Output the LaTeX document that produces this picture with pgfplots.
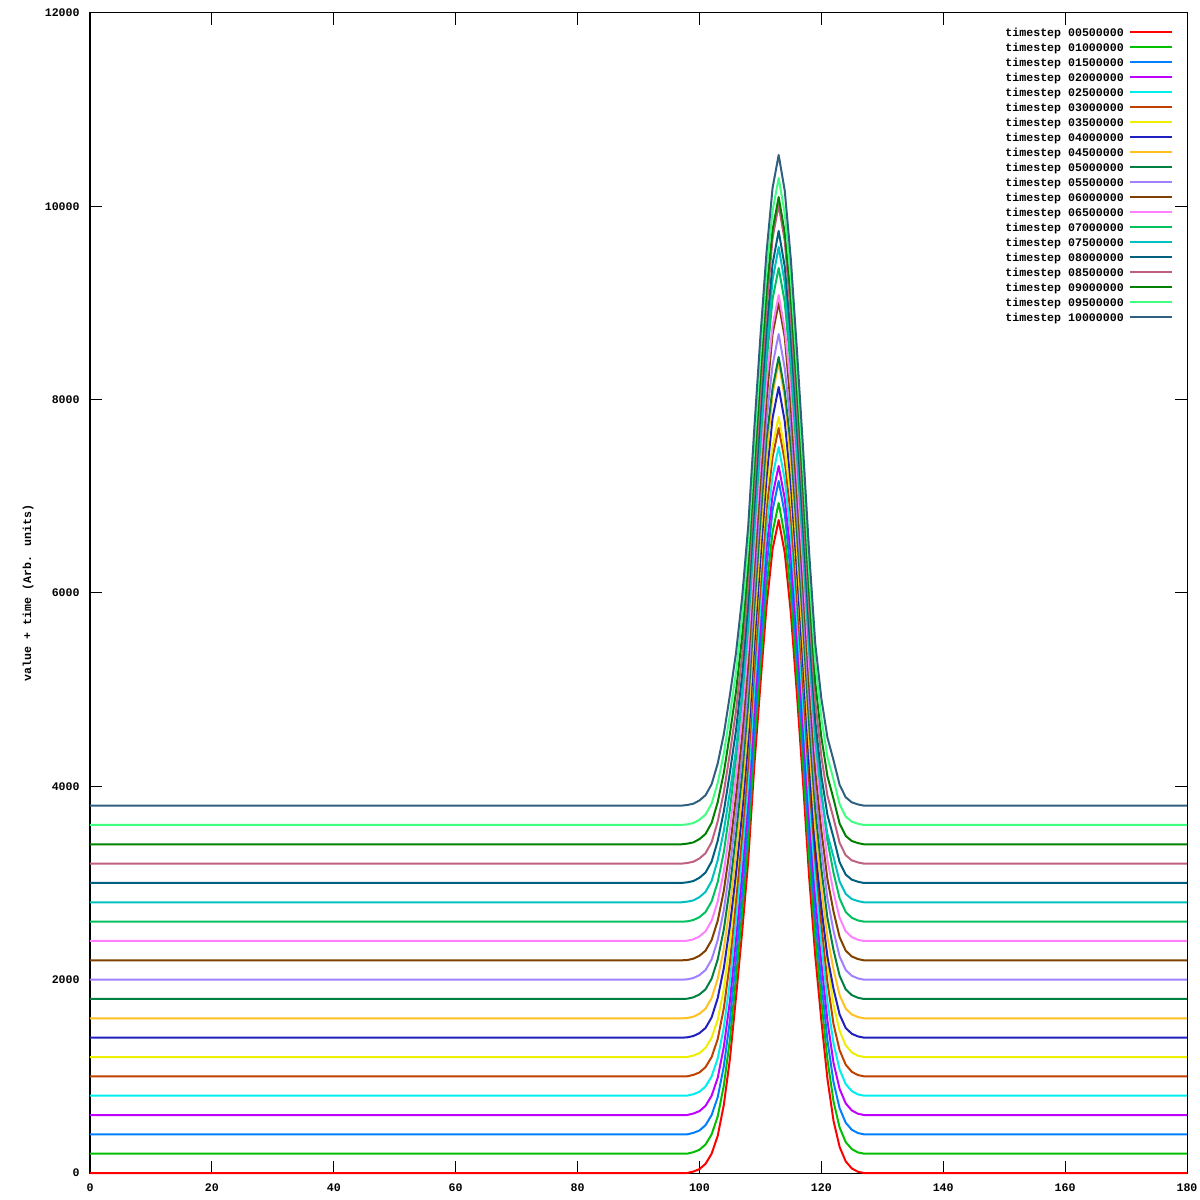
\documentclass[border=0pt]{standalone}
\usepackage{fontspec}
\setmainfont{Liberation Mono}
\usepackage{pgfplots}
\usepackage{pgfplotstable}
\pgfplotsset{compat=1.18}
\definecolor{g1}{HTML}{FF0000}
\definecolor{g2}{HTML}{00C000}
\definecolor{g3}{HTML}{0080FF}
\definecolor{g4}{HTML}{C000FF}
\definecolor{g5}{HTML}{00EEEE}
\definecolor{g6}{HTML}{C04000}
\definecolor{g7}{HTML}{EEEE00}
\definecolor{g8}{HTML}{2020C0}
\definecolor{g9}{HTML}{FFC020}
\definecolor{g10}{HTML}{008040}
\definecolor{g11}{HTML}{A080FF}
\definecolor{g12}{HTML}{804000}
\definecolor{g13}{HTML}{FF80FF}
\definecolor{g14}{HTML}{00C060}
\definecolor{g15}{HTML}{00C0C0}
\definecolor{g16}{HTML}{006080}
\definecolor{g17}{HTML}{C06080}
\definecolor{g18}{HTML}{008000}
\definecolor{g19}{HTML}{40FF80}
\definecolor{g20}{HTML}{306080}
\pgfplotstableread{
x c0 c1 c2 c3 c4 c5 c6 c7 c8 c9 c10 c11 c12 c13 c14 c15 c16 c17 c18 c19
0 0 200 400 600 800 1000 1200 1400 1600 1800 2000 2200 2400 2600 2800 3000 3200 3400 3600 3800
97 0 200 400 600 800 1000 1200 1400 1600 1800 2000 2200 2400 2600 2800 3000 3200 3400 3600 3800
98 0 200 400 600 800 1000 1200 1403 1603 1803 2003 2203 2403 2603 2807 3007 3207 3407 3607 3807
99 15 215 415 615 815 1015 1215 1417 1617 1817 2017 2217 2417 2617 2820 3020 3220 3420 3620 3820
100 40 240 440 640 840 1040 1240 1447 1647 1847 2047 2247 2447 2647 2854 3054 3254 3454 3654 3854
101 95 295 495 695 895 1095 1295 1500 1700 1900 2100 2300 2500 2700 2908 3108 3308 3508 3708 3908
102 200 400 600 800 1000 1200 1400 1610 1810 2010 2210 2410 2610 2810 3022 3222 3422 3622 3822 4022
103 385 585 785 985 1185 1385 1585 1810 2010 2210 2410 2610 2810 3010 3237 3437 3637 3837 4037 4237
104 705 905 1105 1305 1505 1705 1905 2120 2320 2520 2720 2920 3120 3320 3540 3740 3940 4140 4340 4540
105 1180 1380 1580 1780 1980 2180 2380 2560 2760 2960 3160 3360 3560 3760 3945 4145 4345 4545 4745 4945
106 1820 2020 2220 2420 2620 2820 3020 3100 3300 3500 3700 3900 4100 4300 4380 4580 4780 4980 5180 5380
107 2490 2690 2890 3090 3290 3490 3690 3720 3920 4120 4320 4520 4720 4920 4950 5150 5350 5550 5750 5950
108 3230 3430 3630 3830 4030 4230 4430 4460 4660 4860 5060 5260 5460 5660 5690 5890 6090 6290 6490 6690
109 4210 4410 4610 4810 5010 5210 5410 5450 5650 5850 6050 6250 6450 6650 6700 6900 7100 7300 7500 7700
110 5050 5250 5450 5650 5850 6050 6250 6350 6550 6750 6950 7150 7350 7550 7650 7850 8050 8250 8450 8650
111 5860 6060 6260 6460 6660 6860 7060 7190 7390 7590 7790 7990 8190 8390 8520 8720 8920 9120 9320 9520
112 6455 6631 6858 7014 7210 7407 7521 7811 8059 8121 8359 8680 8763 9042 9239 9405 9673 9756 9953 10191
113 6755 6931 7158 7314 7510 7707 7821 8131 8379 8441 8679 9000 9083 9362 9579 9745 10013 10096 10293 10531
114 6415 6591 6818 6974 7170 7367 7481 7776 8024 8086 8324 8645 8728 9007 9209 9375 9643 9726 9923 10161
115 5790 5990 6190 6390 6590 6790 6990 7120 7320 7520 7720 7920 8120 8320 8450 8650 8850 9050 9250 9450
116 4950 5150 5350 5550 5750 5950 6150 6230 6430 6630 6830 7030 7230 7430 7510 7710 7910 8110 8310 8510
117 4040 4240 4440 4640 4840 5040 5240 5270 5470 5670 5870 6070 6270 6470 6500 6700 6900 7100 7300 7500
118 3060 3260 3460 3660 3860 4060 4260 4240 4440 4640 4840 5040 5240 5440 5420 5620 5820 6020 6220 6420
119 2250 2450 2650 2850 3050 3250 3450 3365 3565 3765 3965 4165 4365 4565 4480 4680 4880 5080 5280 5480
120 1580 1780 1980 2180 2380 2580 2780 2745 2945 3145 3345 3545 3745 3945 3910 4110 4310 4510 4710 4910
121 975 1175 1375 1575 1775 1975 2175 2240 2440 2640 2840 3040 3240 3440 3505 3705 3905 4105 4305 4505
122 540 740 940 1140 1340 1540 1740 1905 2105 2305 2505 2705 2905 3105 3270 3470 3670 3870 4070 4270
123 270 470 670 870 1070 1270 1470 1640 1840 2040 2240 2440 2640 2840 3015 3215 3415 3615 3815 4015
124 120 320 520 720 920 1120 1320 1500 1700 1900 2100 2300 2500 2700 2887 3087 3287 3487 3687 3887
125 47 247 447 647 847 1047 1247 1440 1640 1840 2040 2240 2440 2640 2834 3034 3234 3434 3634 3834
126 13 213 413 613 813 1013 1213 1413 1613 1813 2013 2213 2413 2613 2813 3013 3213 3413 3613 3813
127 0 200 400 600 800 1000 1200 1400 1600 1800 2000 2200 2400 2600 2800 3000 3200 3400 3600 3800
180 0 200 400 600 800 1000 1200 1400 1600 1800 2000 2200 2400 2600 2800 3000 3200 3400 3600 3800
}\datatable
\newcommand{\gfont}{\fontsize{5.8pt}{7pt}\selectfont\bfseries}
\begin{document}
\begin{tikzpicture}
\useasboundingbox (0,0) rectangle (600pt,600pt);
\begin{axis}[
  at={(45pt,13.5pt)}, anchor=south west,
  scale only axis, width=548.5pt, height=580pt,
  xmin=0, xmax=180, ymin=0, ymax=12000,
  xtick={0,20,...,180}, ytick={0,2000,...,12000},
  tick align=inside, major tick length=6pt,
  axis line style={black, line width=0.5pt},
  every tick/.style={black, line width=0.5pt},
  scaled ticks=false, clip=false,
  /pgf/number format/set thousands separator={},
  /pgf/number format/assume math mode=true,
  ticklabel style={font=\gfont, inner sep=0pt},
  xticklabel style={yshift=-5pt},
  yticklabel style={xshift=-5pt},
  ylabel={value + time (Arb. units)},
  every axis y label/.style={at={(axis description cs:-0.0565,0.5)}, rotate=90, anchor=center, font=\gfont},
  legend cell align=right,
  legend plot pos=right,
  legend image code/.code={\draw[#1] (0pt,0.8pt) -- (21pt,0.8pt);},
  legend style={draw=none, fill=none, at={(1,1)}, anchor=north east, xshift=-7.1pt, yshift=-6.75pt,
    inner sep=0pt, outer sep=0pt, row sep=0pt, column sep=2.5pt, font=\gfont,
    nodes={inner sep=0pt, text height=5.2pt, text depth=2.3pt}},
  every axis plot/.append style={line width=1pt, line join=round},
]
\addplot[g1] table[x=x, y=c0] {\datatable}; \addlegendentry{timestep 00500000}
\addplot[g2] table[x=x, y=c1] {\datatable}; \addlegendentry{timestep 01000000}
\addplot[g3] table[x=x, y=c2] {\datatable}; \addlegendentry{timestep 01500000}
\addplot[g4] table[x=x, y=c3] {\datatable}; \addlegendentry{timestep 02000000}
\addplot[g5] table[x=x, y=c4] {\datatable}; \addlegendentry{timestep 02500000}
\addplot[g6] table[x=x, y=c5] {\datatable}; \addlegendentry{timestep 03000000}
\addplot[g7] table[x=x, y=c6] {\datatable}; \addlegendentry{timestep 03500000}
\addplot[g8] table[x=x, y=c7] {\datatable}; \addlegendentry{timestep 04000000}
\addplot[g9] table[x=x, y=c8] {\datatable}; \addlegendentry{timestep 04500000}
\addplot[g10] table[x=x, y=c9] {\datatable}; \addlegendentry{timestep 05000000}
\addplot[g11] table[x=x, y=c10] {\datatable}; \addlegendentry{timestep 05500000}
\addplot[g12] table[x=x, y=c11] {\datatable}; \addlegendentry{timestep 06000000}
\addplot[g13] table[x=x, y=c12] {\datatable}; \addlegendentry{timestep 06500000}
\addplot[g14] table[x=x, y=c13] {\datatable}; \addlegendentry{timestep 07000000}
\addplot[g15] table[x=x, y=c14] {\datatable}; \addlegendentry{timestep 07500000}
\addplot[g16] table[x=x, y=c15] {\datatable}; \addlegendentry{timestep 08000000}
\addplot[g17] table[x=x, y=c16] {\datatable}; \addlegendentry{timestep 08500000}
\addplot[g18] table[x=x, y=c17] {\datatable}; \addlegendentry{timestep 09000000}
\addplot[g19] table[x=x, y=c18] {\datatable}; \addlegendentry{timestep 09500000}
\addplot[g20] table[x=x, y=c19] {\datatable}; \addlegendentry{timestep 10000000}
\end{axis}
\end{tikzpicture}
\end{document}
